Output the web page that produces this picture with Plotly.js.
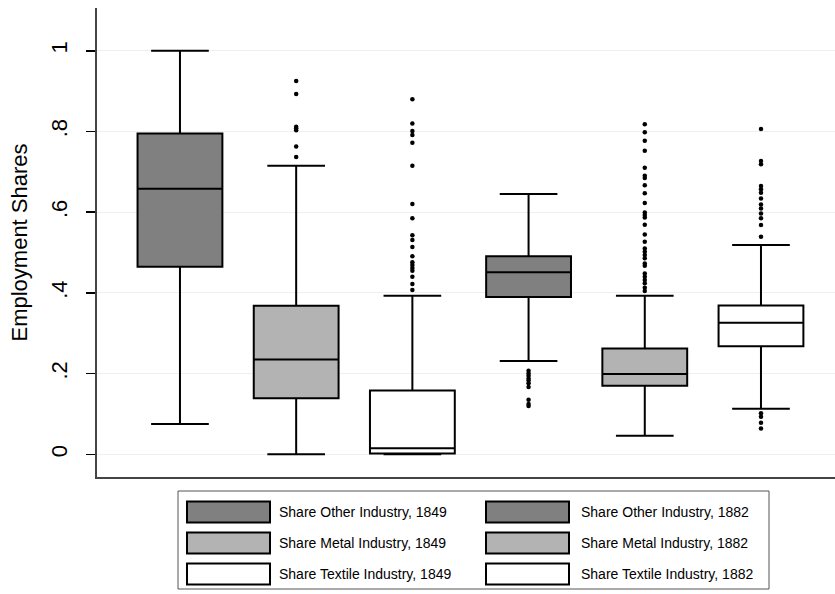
<!DOCTYPE html>
<html>
<head>
<meta charset="utf-8">
<script src="https://cdn.plot.ly/plotly-3.0.1.min.js"></script>
<style>
  html, body { margin: 0; padding: 0; background: #fff; }
  #chart { width: 835px; height: 594px; }
</style>
</head>
<body>
<div id="chart"></div>
<script>
// Box summaries per group (employment shares)
const groups = [
  "Share Other Industry, 1849",
  "Share Metal Industry, 1849",
  "Share Textile Industry, 1849",
  "Share Other Industry, 1882",
  "Share Metal Industry, 1882",
  "Share Textile Industry, 1882"
];
const lowerWhisker = [0.075, 0.000, 0.000, 0.231, 0.046, 0.113];
const q1Values     = [0.465, 0.139, 0.002, 0.390, 0.170, 0.268];
const medians      = [0.658, 0.235, 0.015, 0.451, 0.199, 0.326];
const q3Values     = [0.795, 0.368, 0.158, 0.491, 0.262, 0.369];
const upperWhisker = [1.000, 0.715, 0.393, 0.645, 0.393, 0.519];
const fills = ["#808080", "#b3b3b3", "#ffffff", "#808080", "#b3b3b3", "#ffffff"];

// Points outside the whiskers
const outliersOther1849 = [];
const outliersMetal1849 = [0.925, 0.893, 0.812, 0.808, 0.803, 0.763, 0.737];
const outliersTextile1849 = [0.880, 0.820, 0.801, 0.791, 0.772, 0.715, 0.620, 0.585,
  0.543, 0.531, 0.514, 0.491, 0.476, 0.469, 0.462, 0.455, 0.440, 0.422, 0.407];
const outliersOther1882 = [0.207, 0.200, 0.195, 0.188, 0.183, 0.176, 0.167, 0.135, 0.125, 0.120];
const outliersMetal1882 = [0.818, 0.798, 0.777, 0.752, 0.710, 0.690, 0.685, 0.667, 0.647,
  0.623, 0.599, 0.593, 0.587, 0.569, 0.545, 0.527, 0.510, 0.502, 0.494, 0.486, 0.473,
  0.467, 0.448, 0.440, 0.432, 0.424, 0.413, 0.405];
const outliersTextile1882 = [0.806, 0.727, 0.719, 0.665, 0.657, 0.648, 0.634, 0.619,
  0.609, 0.597, 0.585, 0.568, 0.539, 0.102, 0.093, 0.078, 0.064];
const outliers = [outliersOther1849, outliersMetal1849, outliersTextile1849,
  outliersOther1882, outliersMetal1882, outliersTextile1882];

const yTickVals = [0, 0.2, 0.4, 0.6, 0.8, 1];
const yTickText = ["0", ".2", ".4", ".6", ".8", "1"];

const FONT = "Liberation Sans, Arial, Helvetica, sans-serif";

const traces = [];
groups.forEach((name, i) => {
  traces.push({
    type: "box",
    name: name,
    x: [i],
    q1: [q1Values[i]],
    median: [medians[i]],
    q3: [q3Values[i]],
    lowerfence: [lowerWhisker[i]],
    upperfence: [upperWhisker[i]],
    width: 0.73,
    whiskerwidth: 0.68,
    fillcolor: fills[i],
    line: { color: "#000000", width: 2 },
    boxpoints: false,
    hoverinfo: "y",
    showlegend: false
  });
  if (outliers[i].length) {
    traces.push({
      type: "scatter",
      mode: "markers",
      x: outliers[i].map(() => i),
      y: outliers[i],
      marker: { color: "#000000", size: 4.5 },
      hoverinfo: "y",
      showlegend: false
    });
  }
});

// Plot area geometry (pixels) used for the drawn legend
const M = { l: 97, r: 0, t: 8, b: 117 };
const W = 835, H = 594;
const pw = W - M.l - M.r, ph = H - M.t - M.b;
const px = v => (v - M.l) / pw;
const py = v => (H - M.b - v) / ph;

const shapes = [];
const annotations = [];

// Legend frame
shapes.push({
  type: "rect", xref: "paper", yref: "paper",
  x0: px(178), x1: px(769), y0: py(491), y1: py(589),
  line: { color: "#555555", width: 1 }, fillcolor: "rgba(0,0,0,0)"
});

// Legend rows: Other, Metal, Textile; columns: 1849, 1882
const legendOrder = [[0, 3], [1, 4], [2, 5]];
const rowCenters = [512, 543, 574];
const colSwatch = [187, 486];
const colText = [277, 579];
legendOrder.forEach((row, r) => {
  row.forEach((gi, c) => {
    shapes.push({
      type: "rect", xref: "paper", yref: "paper",
      x0: px(colSwatch[c]), x1: px(colSwatch[c] + 83),
      y0: py(rowCenters[r] - 10.5), y1: py(rowCenters[r] + 10.5),
      line: { color: "#000000", width: 2 }, fillcolor: fills[gi]
    });
    annotations.push({
      xref: "paper", yref: "paper",
      x: px(colText[c]), y: py(rowCenters[r]),
      xanchor: "left", yanchor: "middle",
      text: groups[gi], showarrow: false,
      font: { family: FONT, size: 14, color: "#000000" }
    });
  });
});

const layout = {
  width: W, height: H,
  margin: M,
  paper_bgcolor: "#ffffff",
  plot_bgcolor: "#ffffff",
  showlegend: false,
  font: { family: FONT, color: "#000000" },
  xaxis: {
    range: [-0.714, 5.637],
    showgrid: false, zeroline: false,
    showticklabels: false, ticks: "",
    showline: true, linecolor: "#444444", linewidth: 2,
    fixedrange: true
  },
  yaxis: {
    range: [-0.0562, 1.106],
    tickvals: yTickVals, ticktext: yTickText,
    tickangle: -90,
    ticks: "outside", ticklen: 9, tickwidth: 1.5, tickcolor: "#000000",
    ticklabelstandoff: 10,
    tickfont: { family: FONT, size: 22, color: "#000000" },
    showgrid: true, gridcolor: "#eaf1f3", gridwidth: 1,
    zeroline: false,
    showline: true, linecolor: "#444444", linewidth: 2,
    title: { text: "Employment Shares", font: { family: FONT, size: 22, color: "#000000" }, standoff: 14 },
    fixedrange: true
  },
  shapes: shapes,
  annotations: annotations
};

Plotly.newPlot("chart", traces, layout, { staticPlot: true, displayModeBar: false });
</script>
</body>
</html>
